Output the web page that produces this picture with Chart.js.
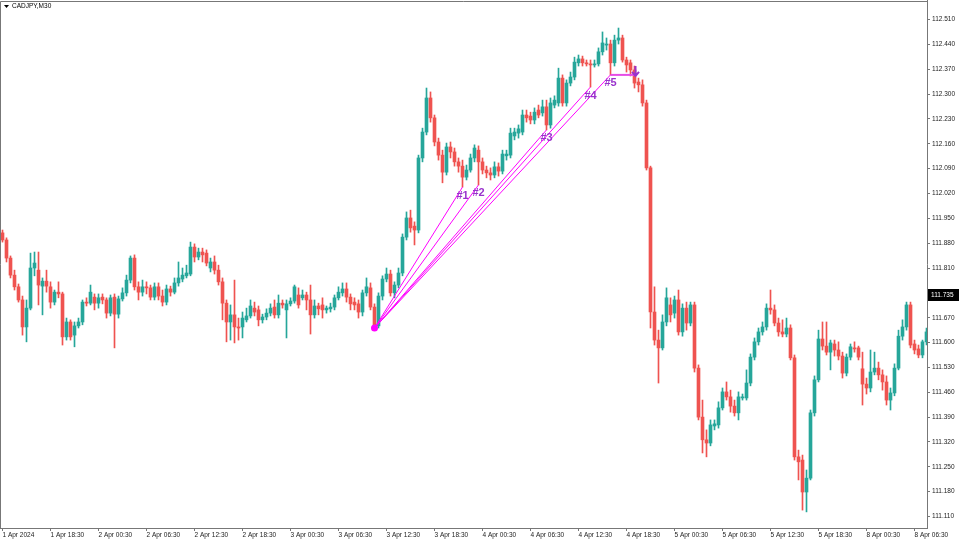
<!DOCTYPE html>
<html>
<head>
<meta charset="utf-8">
<script src="https://cdn.jsdelivr.net/npm/chart.js@4.4.1/dist/chart.umd.min.js"></script>
<style>
  html, body { margin: 0; padding: 0; background: #fff; }
</style>
</head>
<body>
<canvas id="chart" width="960" height="540"></canvas>
<script>
const symbol = "CADJPY,M30";

const opens = [
  111.909, 111.889, 111.838, 111.790, 111.757, 111.720, 111.644, 111.697, 111.810, 111.804,
  111.759, 111.773, 111.757, 111.714, 111.742, 111.737, 111.616, 111.658, 111.621, 111.647,
  111.658, 111.714, 111.711, 111.728, 111.711, 111.728, 111.720, 111.683, 111.728, 111.680,
  111.723, 111.740, 111.776, 111.838, 111.757, 111.742, 111.757, 111.754, 111.728, 111.757,
  111.731, 111.714, 111.751, 111.742, 111.768, 111.779, 111.788, 111.793, 111.869, 111.841,
  111.855, 111.852, 111.810, 111.827, 111.804, 111.771, 111.711, 111.658, 111.678, 111.644,
  111.644, 111.664, 111.675, 111.697, 111.692, 111.664, 111.672, 111.683, 111.700, 111.678,
  111.711, 111.692, 111.709, 111.717, 111.734, 111.726, 111.734, 111.720, 111.678, 111.703,
  111.706, 111.692, 111.695, 111.700, 111.726, 111.740, 111.751, 111.728, 111.714, 111.709,
  111.686, 111.740, 111.754, 111.700, 111.647, 111.731, 111.779, 111.793, 111.740, 111.762,
  111.796, 111.897, 111.951, 111.928, 111.917, 112.120, 112.193, 112.289, 112.233, 112.165,
  112.128, 112.080, 112.151, 112.137, 112.109, 112.097, 112.066, 112.086, 112.120, 112.142,
  112.109, 112.086, 112.078, 112.072, 112.095, 112.083, 112.126, 112.128, 112.182, 112.190,
  112.193, 112.241, 112.238, 112.227, 112.255, 112.247, 112.264, 112.213, 112.269, 112.275,
  112.345, 112.275, 112.331, 112.348, 112.388, 112.399, 112.388, 112.385, 112.382, 112.385,
  112.419, 112.438, 112.441, 112.388, 112.452, 112.458, 112.396, 112.388, 112.368, 112.334,
  112.326, 112.275, 112.092, 111.686, 111.607, 111.585, 111.658, 111.706, 111.683, 111.720,
  111.630, 111.697, 111.655, 111.706, 111.528, 111.390, 111.326, 111.317, 111.365, 111.368,
  111.416, 111.461, 111.447, 111.421, 111.402, 111.444, 111.444, 111.486, 111.559, 111.602,
  111.630, 111.644, 111.697, 111.692, 111.655, 111.630, 111.624, 111.641, 111.557, 111.278,
  111.269, 111.179, 111.218, 111.402, 111.495, 111.610, 111.590, 111.573, 111.596, 111.579,
  111.562, 111.514, 111.559, 111.585, 111.585, 111.526, 111.483, 111.472, 111.517, 111.528,
  111.509, 111.489, 111.438, 111.458, 111.528, 111.618, 111.644, 111.706, 111.596, 111.582,
  111.565, 111.602
];

const highs = [
  111.917, 111.895, 111.844, 111.804, 111.765, 111.731, 111.720, 111.852, 111.855, 111.855,
  111.782, 111.804, 111.771, 111.748, 111.771, 111.742, 111.669, 111.664, 111.658, 111.669,
  111.720, 111.726, 111.762, 111.737, 111.737, 111.737, 111.726, 111.734, 111.737, 111.731,
  111.754, 111.790, 111.844, 111.847, 111.771, 111.776, 111.771, 111.762, 111.768, 111.768,
  111.748, 111.762, 111.759, 111.782, 111.827, 111.810, 111.818, 111.883, 111.878, 111.866,
  111.866, 111.861, 111.838, 111.844, 111.818, 111.782, 111.720, 111.706, 111.776, 111.669,
  111.686, 111.697, 111.720, 111.714, 111.703, 111.680, 111.695, 111.709, 111.720, 111.734,
  111.720, 111.720, 111.726, 111.762, 111.754, 111.748, 111.742, 111.762, 111.720, 111.711,
  111.726, 111.703, 111.711, 111.734, 111.757, 111.768, 111.768, 111.737, 111.726, 111.720,
  111.748, 111.782, 111.768, 111.709, 111.740, 111.788, 111.810, 111.804, 111.771, 111.810,
  111.906, 111.968, 111.973, 111.940, 112.128, 112.204, 112.317, 112.306, 112.241, 112.176,
  112.142, 112.162, 112.165, 112.148, 112.120, 112.114, 112.100, 112.131, 112.157, 112.154,
  112.120, 112.097, 112.092, 112.109, 112.106, 112.142, 112.142, 112.204, 112.204, 112.213,
  112.255, 112.255, 112.249, 112.261, 112.269, 112.283, 112.283, 112.289, 112.295, 112.373,
  112.354, 112.340, 112.362, 112.404, 112.410, 112.407, 112.396, 112.396, 112.396, 112.430,
  112.475, 112.458, 112.452, 112.466, 112.486, 112.466, 112.404, 112.396, 112.379, 112.345,
  112.340, 112.283, 112.097, 111.757, 111.635, 111.678, 111.754, 111.726, 111.731, 111.748,
  111.709, 111.714, 111.714, 111.714, 111.537, 111.438, 111.354, 111.382, 111.382, 111.433,
  111.472, 111.489, 111.466, 111.438, 111.461, 111.455, 111.523, 111.568, 111.613, 111.641,
  111.658, 111.709, 111.748, 111.706, 111.669, 111.664, 111.669, 111.650, 111.565, 111.297,
  111.283, 111.241, 111.410, 111.506, 111.635, 111.658, 111.658, 111.607, 111.607, 111.602,
  111.573, 111.568, 111.596, 111.602, 111.590, 111.573, 111.500, 111.579, 111.573, 111.545,
  111.523, 111.506, 111.472, 111.540, 111.635, 111.664, 111.714, 111.714, 111.607, 111.593,
  111.607, 111.641
];

const lows = [
  111.883, 111.827, 111.782, 111.748, 111.714, 111.621, 111.602, 111.692, 111.788, 111.706,
  111.678, 111.742, 111.697, 111.706, 111.726, 111.593, 111.607, 111.607, 111.588, 111.641,
  111.650, 111.703, 111.706, 111.692, 111.697, 111.709, 111.669, 111.675, 111.585, 111.669,
  111.717, 111.731, 111.768, 111.748, 111.720, 111.731, 111.737, 111.720, 111.720, 111.720,
  111.703, 111.706, 111.731, 111.737, 111.759, 111.771, 111.782, 111.788, 111.827, 111.833,
  111.827, 111.816, 111.799, 111.793, 111.762, 111.664, 111.602, 111.607, 111.599, 111.607,
  111.613, 111.658, 111.669, 111.675, 111.647, 111.655, 111.664, 111.675, 111.669, 111.669,
  111.697, 111.613, 111.703, 111.711, 111.697, 111.720, 111.692, 111.624, 111.669, 111.678,
  111.669, 111.683, 111.686, 111.692, 111.720, 111.731, 111.714, 111.692, 111.692, 111.669,
  111.675, 111.731, 111.692, 111.641, 111.641, 111.720, 111.771, 111.731, 111.726, 111.754,
  111.788, 111.889, 111.911, 111.875, 111.909, 112.109, 112.185, 112.221, 112.154, 112.114,
  112.050, 112.072, 112.120, 112.097, 112.080, 112.038, 112.058, 112.080, 112.109, 112.044,
  112.075, 112.064, 112.058, 112.064, 112.069, 112.075, 112.114, 112.120, 112.171, 112.176,
  112.185, 112.221, 112.216, 112.216, 112.233, 112.238, 112.199, 112.204, 112.261, 112.266,
  112.266, 112.266, 112.323, 112.340, 112.379, 112.379, 112.379, 112.320, 112.376, 112.379,
  112.410, 112.424, 112.354, 112.379, 112.441, 112.390, 112.362, 112.351, 112.317, 112.306,
  112.266, 112.086, 111.641, 111.593, 111.486, 111.579, 111.647, 111.658, 111.669, 111.621,
  111.618, 111.635, 111.647, 111.517, 111.382, 111.289, 111.278, 111.309, 111.354, 111.359,
  111.410, 111.438, 111.404, 111.393, 111.382, 111.438, 111.438, 111.478, 111.551, 111.593,
  111.621, 111.635, 111.680, 111.647, 111.618, 111.616, 111.616, 111.551, 111.269, 111.213,
  111.128, 111.123, 111.213, 111.393, 111.489, 111.579, 111.565, 111.523, 111.562, 111.551,
  111.500, 111.506, 111.551, 111.573, 111.551, 111.424, 111.455, 111.461, 111.509, 111.495,
  111.466, 111.424, 111.410, 111.450, 111.523, 111.607, 111.635, 111.585, 111.568, 111.557,
  111.557, 111.593
];

const closes = [
  111.889, 111.838, 111.790, 111.757, 111.720, 111.644, 111.697, 111.810, 111.824, 111.762,
  111.773, 111.759, 111.714, 111.742, 111.737, 111.616, 111.658, 111.616, 111.647, 111.658,
  111.714, 111.711, 111.742, 111.711, 111.726, 111.720, 111.683, 111.726, 111.680, 111.723,
  111.740, 111.776, 111.838, 111.757, 111.742, 111.757, 111.754, 111.728, 111.757, 111.731,
  111.714, 111.751, 111.742, 111.768, 111.782, 111.790, 111.796, 111.869, 111.841, 111.855,
  111.847, 111.824, 111.827, 111.804, 111.771, 111.711, 111.658, 111.678, 111.644, 111.641,
  111.669, 111.675, 111.703, 111.686, 111.664, 111.672, 111.683, 111.697, 111.678, 111.711,
  111.706, 111.709, 111.717, 111.757, 111.706, 111.734, 111.720, 111.678, 111.703, 111.695,
  111.692, 111.697, 111.700, 111.726, 111.742, 111.751, 111.728, 111.709, 111.706, 111.686,
  111.740, 111.757, 111.700, 111.647, 111.731, 111.779, 111.793, 111.740, 111.762, 111.796,
  111.897, 111.951, 111.923, 111.917, 112.120, 112.193, 112.289, 112.233, 112.165, 112.128,
  112.080, 112.151, 112.137, 112.109, 112.097, 112.066, 112.086, 112.120, 112.148, 112.109,
  112.086, 112.078, 112.072, 112.095, 112.083, 112.131, 112.131, 112.190, 112.193, 112.202,
  112.241, 112.233, 112.227, 112.249, 112.241, 112.264, 112.213, 112.275, 112.283, 112.345,
  112.275, 112.331, 112.348, 112.390, 112.399, 112.388, 112.385, 112.382, 112.385, 112.419,
  112.444, 112.441, 112.388, 112.452, 112.458, 112.396, 112.382, 112.368, 112.331, 112.326,
  112.275, 112.092, 111.686, 111.607, 111.585, 111.658, 111.726, 111.678, 111.720, 111.630,
  111.697, 111.655, 111.706, 111.528, 111.390, 111.326, 111.317, 111.368, 111.371, 111.416,
  111.461, 111.447, 111.421, 111.402, 111.447, 111.447, 111.486, 111.559, 111.602, 111.630,
  111.644, 111.697, 111.692, 111.655, 111.630, 111.624, 111.641, 111.557, 111.278, 111.264,
  111.179, 111.218, 111.402, 111.495, 111.610, 111.590, 111.573, 111.599, 111.579, 111.562,
  111.514, 111.559, 111.588, 111.582, 111.559, 111.483, 111.472, 111.517, 111.528, 111.509,
  111.489, 111.438, 111.458, 111.528, 111.618, 111.644, 111.706, 111.593, 111.579, 111.565,
  111.602, 111.630
];

// swing markers drawn by the indicator
const pivotBar = 93;
const pivotPrice = 111.641;
const targetBars = [115, 119, 136, 147, 152];
const targetPrices = [112.038, 112.044, 112.199, 112.320, 112.354];
const targetNames = ["#1", "#2", "#3", "#4", "#5"];
const signalBar = 158;
const currentPrice = 111.735;

const xTickBars = [0, 12, 24, 36, 48, 60, 72, 84, 96, 108, 120, 132, 144, 156, 168, 180, 192, 204, 216, 228];
const xTickLabels = [
  "1 Apr 2024", "1 Apr 18:30", "2 Apr 00:30", "2 Apr 06:30", "2 Apr 12:30",
  "2 Apr 18:30", "3 Apr 00:30", "3 Apr 06:30", "3 Apr 12:30", "3 Apr 18:30",
  "4 Apr 00:30", "4 Apr 06:30", "4 Apr 12:30", "4 Apr 18:30", "5 Apr 00:30",
  "5 Apr 06:30", "5 Apr 12:30", "5 Apr 18:30", "8 Apr 00:30", "8 Apr 06:30"
];
const yTicks = [
  111.110, 111.180, 111.250, 111.320, 111.390, 111.460, 111.530, 111.600, 111.670, 111.740,
  111.810, 111.880, 111.950, 112.020, 112.090, 112.160, 112.230, 112.300, 112.370, 112.440, 112.510
];

const UP = "#26a69a";
const DOWN = "#ef5350";
const MAGENTA = "#ff00ff";
const PURPLE = "#9932cc";
const FONT = "Liberation Sans";

const candleColors = opens.map((o, i) => (closes[i] >= o ? UP : DOWN));
const bodies = opens.map((o, i) => ({ x: i, y: [Math.min(o, closes[i]), Math.max(o, closes[i])] }));
const wicks = opens.map((o, i) => ({ x: i, y: [lows[i], highs[i]] }));

const rayDatasets = targetBars.map((b, k) => ({
  type: "line",
  label: targetNames[k],
  data: [{ x: pivotBar, y: pivotPrice }, { x: b, y: targetPrices[k] }],
  borderColor: MAGENTA,
  borderWidth: 1,
  pointRadius: 0,
  fill: false,
}));

function noPadding(s) {
  s.paddingTop = 0;
  s.paddingBottom = 0;
  s.paddingLeft = 0;
  s.paddingRight = 0;
}

const overlay = {
  id: "overlay",
  afterDatasetsDraw(chart) {
    const { ctx, scales: { x, y } } = chart;
    ctx.save();
    // target labels
    ctx.fillStyle = PURPLE;
    ctx.font = "bold 11px " + FONT;
    ctx.textAlign = "center";
    ctx.textBaseline = "top";
    targetBars.forEach((b, k) => {
      ctx.fillText(targetNames[k], x.getPixelForValue(b), y.getPixelForValue(targetPrices[k]) + 3);
    });
    // down arrow at the signal bar
    const ax = Math.round(x.getPixelForValue(signalBar)) + 0.5;
    const ay = y.getPixelForValue(targetPrices[4]);
    ctx.strokeStyle = PURPLE;
    ctx.lineWidth = 2;
    ctx.beginPath();
    ctx.moveTo(ax, ay - 9);
    ctx.lineTo(ax, ay + 1);
    ctx.moveTo(ax - 3.5, ay - 3);
    ctx.lineTo(ax, ay + 1);
    ctx.lineTo(ax + 3.5, ay - 3);
    ctx.stroke();
    ctx.restore();
  },
  afterDraw(chart) {
    const { ctx, chartArea: a, scales: { y } } = chart;
    ctx.save();
    // frame
    ctx.strokeStyle = "#777";
    ctx.lineWidth = 1;
    ctx.beginPath();
    ctx.moveTo(a.left + 0.5, a.bottom);
    ctx.lineTo(a.left + 0.5, a.top + 1.5);
    ctx.lineTo(a.right, a.top + 1.5);
    ctx.stroke();
    // symbol caption
    ctx.fillStyle = "#000";
    ctx.beginPath();
    ctx.moveTo(4, 5);
    ctx.lineTo(9, 5);
    ctx.lineTo(6.5, 8);
    ctx.closePath();
    ctx.fill();
    ctx.font = "6.5px " + FONT;
    ctx.textBaseline = "middle";
    ctx.textAlign = "left";
    ctx.fillText(symbol, 12, 6.5);
    // current price box
    const py = Math.round(y.getPixelForValue(currentPrice));
    ctx.fillStyle = "#000";
    ctx.fillRect(a.right + 1, py - 6, 31, 12);
    ctx.fillStyle = "#fff";
    ctx.fillText(currentPrice.toFixed(3), a.right + 4, py + 0.5);
    ctx.restore();
  },
};

new Chart(document.getElementById("chart").getContext("2d"), {
  type: "bar",
  data: {
    datasets: [
      ...rayDatasets,
      {
        type: "line",
        label: "level",
        data: [{ x: targetBars[4], y: targetPrices[4] }, { x: signalBar, y: targetPrices[4] }],
        borderColor: "#e64ce6",
        borderWidth: 2,
        pointRadius: 0,
      },
      {
        type: "line",
        label: "pivot",
        data: [{ x: pivotBar, y: pivotPrice }],
        showLine: false,
        pointRadius: 3.5,
        pointBorderWidth: 0,
        pointBackgroundColor: MAGENTA,
      },
      {
        label: "bodies",
        data: bodies,
        backgroundColor: candleColors,
        barThickness: 3,
        minBarLength: 1,
        grouped: false,
        borderWidth: 0,
      },
      {
        label: "wicks",
        data: wicks,
        backgroundColor: candleColors,
        barThickness: 1,
        grouped: false,
        borderWidth: 0,
      },
    ],
  },
  options: {
    responsive: false,
    animation: false,
    devicePixelRatio: 1,
    layout: { padding: 0, autoPadding: false },
    plugins: { legend: { display: false }, tooltip: { enabled: false } },
    scales: {
      x: {
        type: "linear",
        min: -0.625,
        max: 231.125,
        offset: false,
        grid: { display: true, offset: false, drawOnChartArea: false, tickLength: 3, color: "#777" },
        border: { display: true, color: "#777" },
        ticks: {
          autoSkip: false,
          maxRotation: 0,
          align: "start",
          padding: 0,
          color: "#222",
          font: { family: FONT, size: 6.5 },
          callback: (v, i) => xTickLabels[i],
        },
        afterBuildTicks: (s) => { s.ticks = xTickBars.map((v) => ({ value: v })); },
        afterFit: (s) => { s.height = 12; noPadding(s); },
      },
      y: {
        position: "right",
        min: 111.0776,
        max: 112.565,
        grid: { display: true, drawOnChartArea: false, tickLength: 3, color: "#777" },
        border: { display: true, color: "#777" },
        ticks: {
          autoSkip: false,
          padding: 2,
          color: "#222",
          font: { family: FONT, size: 6.5 },
          callback: (v) => Number(v).toFixed(3),
        },
        afterBuildTicks: (s) => { s.ticks = yTicks.map((v) => ({ value: v })); },
        afterFit: (s) => { s.width = 33; noPadding(s); },
      },
    },
  },
  plugins: [overlay],
});
</script>
</body>
</html>
